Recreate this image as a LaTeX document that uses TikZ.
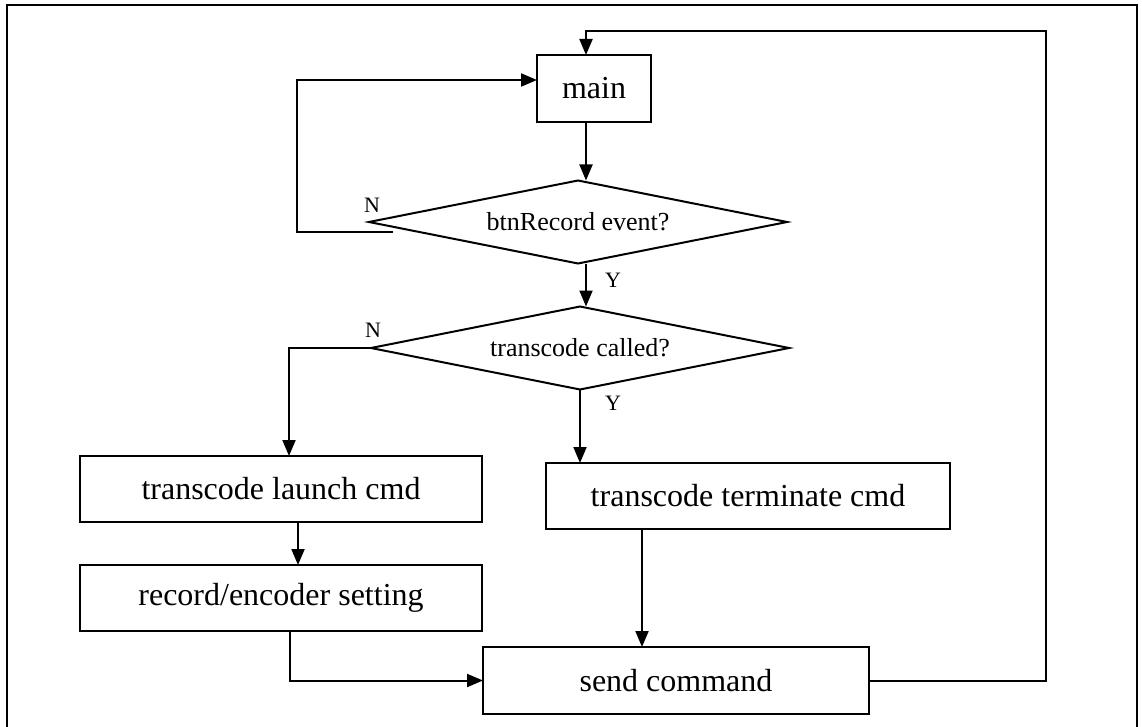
\documentclass[tikz,border=0pt]{standalone}
\usepackage{fontspec}
\setmainfont{Liberation Serif}
\usetikzlibrary{shapes.geometric,arrows.meta,calc}

\begin{document}
\begin{tikzpicture}[x=1pt,y=-1pt,
  every node/.style={inner sep=0pt, outer sep=0pt},
  procbox/.style={draw, line width=2pt, rectangle, minimum height=66pt,
    font=\fontsize{32}{36}\selectfont},
  decision/.style={draw, line width=2pt, diamond, aspect=5,
    minimum width=418pt, minimum height=83pt,
    font=\fontsize{26}{30}\selectfont},
  flow/.style={line width=2pt, -{Triangle[length=16pt,width=13pt]}},
  tag/.style={font=\fontsize{22}{26}\selectfont}
]
% page size and the open outer frame (left, top and right sides)
\useasboundingbox (0,0) rectangle (1142,727);
\draw[line width=1.8pt] (7,727) -- (7,5) -- (1137,5) -- (1137,727);

% process boxes and decisions
\node[procbox, minimum width=114pt, minimum height=67pt] (main) at (594,88.5) {main};
\node[decision] (d1) at (578,222) {btnRecord event?};
\node[decision] (d2) at (580,348) {transcode called?};
\node[procbox, minimum width=402pt] (launch) at (281,489) {transcode launch cmd};
\node[procbox, minimum width=402pt] (record) at (281,598) {record/encoder setting};
\node[procbox, minimum width=404pt] (term) at (748,496) {transcode terminate cmd};
\node[procbox, minimum width=386pt, minimum height=67pt] (send) at (676,680.5) {send command};

% branch labels
\node[tag] (n1) at (372,205) {N};
\node[tag] (y1) at (613,280) {Y};
\node[tag] (n2) at (373,330) {N};
\node[tag] (y2) at (613,403) {Y};

% helper points for the loops and the main column
\coordinate (axis) at ([xshift=-8pt]main.south);
\coordinate (loopstart) at (393,232);
\coordinate (loopcorner) at (297,232);
\coordinate (fbcorner) at (1046,31);

% connectors
\draw[flow] (axis) -- (axis |- d1.north);
\draw[flow] (loopstart) -- (loopcorner) |- ([yshift=8.5pt]main.west);
\draw[flow] (d1.south -| axis) -- (d2.north -| axis);
\draw[flow] (d2.west) -| ([xshift=8pt]launch.north);
\draw[flow] (d2.south) -- (d2.south |- term.north);
\draw[flow] ([xshift=17pt]launch.south) -- ([xshift=17pt]record.north);
\draw[flow] ([xshift=9pt]record.south) |- (send.west);
\draw[flow] ([xshift=-106pt]term.south) -- ([xshift=-106pt]term.south |- send.north);
\draw[flow] (send.east) -| (fbcorner) -| (axis |- main.north);
\end{tikzpicture}
\end{document}
